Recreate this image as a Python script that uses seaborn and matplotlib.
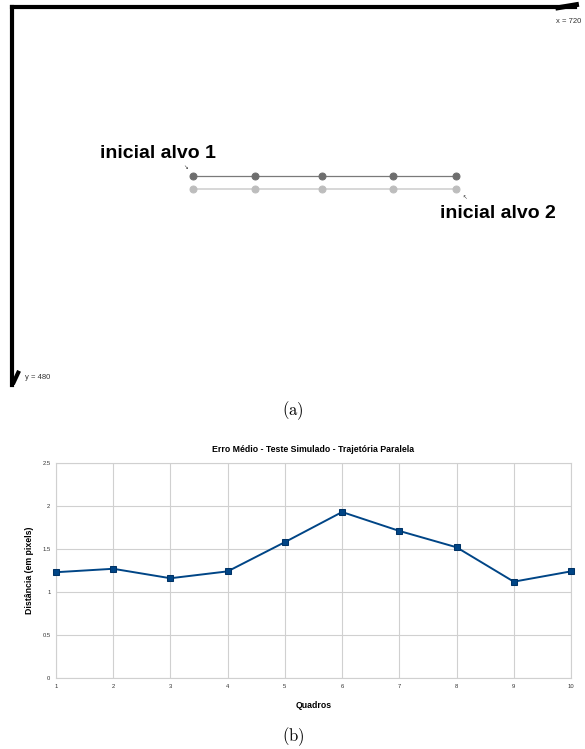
import numpy as np
import pandas as pd
import matplotlib
matplotlib.use('Agg')
import matplotlib.pyplot as plt
import seaborn as sns

# (a) trajetorias simuladas (coordenadas de tela 720x480)
alvo_x = [231, 311, 396, 487, 568]
alvo1_y = [215, 215, 215, 215, 215]
alvo2_y = [231, 231, 231, 231, 231]

# (b) erro medio por quadro
quadros = [1, 2, 3, 4, 5, 6, 7, 8, 9, 10]
erro = [1.23, 1.27, 1.16, 1.24, 1.58, 1.93, 1.71, 1.52, 1.12, 1.24]

sns.set_theme(style='white')
plt.rcParams['font.family'] = ['Liberation Sans', 'DejaVu Sans']
plt.rcParams['mathtext.fontset'] = 'cm'
plt.rcParams['text.color'] = 'black'
plt.rcParams['axes.labelcolor'] = 'black'

W, H = 585, 749
fig = plt.figure(figsize=(W / 100, H / 100), dpi=100)
fig.patch.set_facecolor('white')

# ---- panel (a)
ax1 = fig.add_axes([12 / W, 1 - 385 / H, (575 - 12) / W, (385 - 7) / H])
df1 = pd.DataFrame({'x': alvo_x * 2,
                    'y': alvo1_y + alvo2_y,
                    'alvo': ['1'] * len(alvo_x) + ['2'] * len(alvo_x)})
sns.lineplot(data=df1[df1.alvo == '2'], x='x', y='y', ax=ax1, color='#d4d4d4',
             linewidth=1.3, marker='o', markersize=5, markerfacecolor='#bdbdbd',
             markeredgecolor='#bdbdbd')
sns.lineplot(data=df1[df1.alvo == '1'], x='x', y='y', ax=ax1, color='#7a7a7a',
             linewidth=0.9, marker='o', markersize=5, markerfacecolor='#6e6e6e',
             markeredgecolor='#6e6e6e')
ax1.set_xlim(0, 720)
ax1.set_ylim(480, 0)
ax1.set_xticks([])
ax1.set_yticks([])
ax1.set_xlabel('')
ax1.set_ylabel('')
for s in ['right', 'bottom']:
    ax1.spines[s].set_visible(False)
for s in ['left', 'top']:
    ax1.spines[s].set_color('black')
    ax1.spines[s].set_linewidth(3)
# pontas das setas do quadro
ax1.plot([695, 725], [1.5, -3.5], color='black', lw=3.6, clip_on=False,
         solid_capstyle='butt')
ax1.plot([1, 9], [479, 462], color='black', lw=3, clip_on=False,
         solid_capstyle='butt')

ax1.text(728, 19, 'x = 720', fontsize=5.5, color='#333333', ha='right',
         va='center', clip_on=False)
ax1.text(17, 471, 'y = 480', fontsize=5.5, color='#333333', ha='left',
         va='center')
ax1.text(112, 186, 'inicial alvo 1', fontsize=14, fontweight='bold',
         ha='left', va='center')
ax1.text(547, 262, 'inicial alvo 2', fontsize=14, fontweight='bold',
         ha='left', va='center')
ax1.text(222, 204, '↘', fontsize=4, color='#333333', ha='center', va='center',
         family=['DejaVu Sans'])
ax1.text(579, 242, '↖', fontsize=4, color='#333333', ha='center', va='center',
         family=['DejaVu Sans'])

fig.text(293 / W, 1 - 411 / H, r'$\mathrm{(a)}$', fontsize=12, ha='center',
         va='center')

# ---- panel (b)
ax2 = fig.add_axes([56 / W, 1 - 678 / H, (571 - 56) / W, (678 - 463) / H])
df2 = pd.DataFrame({'Quadros': quadros, 'Erro': erro})
sns.lineplot(data=df2, x='Quadros', y='Erro', ax=ax2, color='#004586',
             linewidth=1.4, marker='s', markersize=4.2,
             markerfacecolor='#004586', markeredgecolor='#003366',
             clip_on=False, zorder=3)
ax2.set_xlim(1, 10)
ax2.set_ylim(0, 2.5)
ax2.set_xticks(quadros)
ax2.set_yticks([0, 0.5, 1, 1.5, 2, 2.5])
ax2.set_yticklabels(['0', '0.5', '1', '1.5', '2', '2.5'])
ax2.grid(True, color='#d0d0d0', linewidth=0.8)
ax2.set_axisbelow(True)
for s in ax2.spines.values():
    s.set_color('#d0d0d0')
    s.set_linewidth(0.8)
    s.set_zorder(1)
ax2.tick_params(axis='both', length=0, labelsize=4.2, colors='#333333', pad=4)
ax2.set_title('Erro Médio - Teste Simulado - Trajetória Paralela',
              fontsize=6.3, fontweight='bold', pad=8)
ax2.set_xlabel('Quadros', fontsize=6.3, fontweight='bold', labelpad=9)
ax2.set_ylabel('Distância (em pixels)', fontsize=6.3, fontweight='bold',
               labelpad=6)

fig.text(293 / W, 1 - 737 / H, r'$\mathrm{(b)}$', fontsize=12, ha='center',
         va='center')

fig.savefig('out.png', dpi=100, facecolor='white')
